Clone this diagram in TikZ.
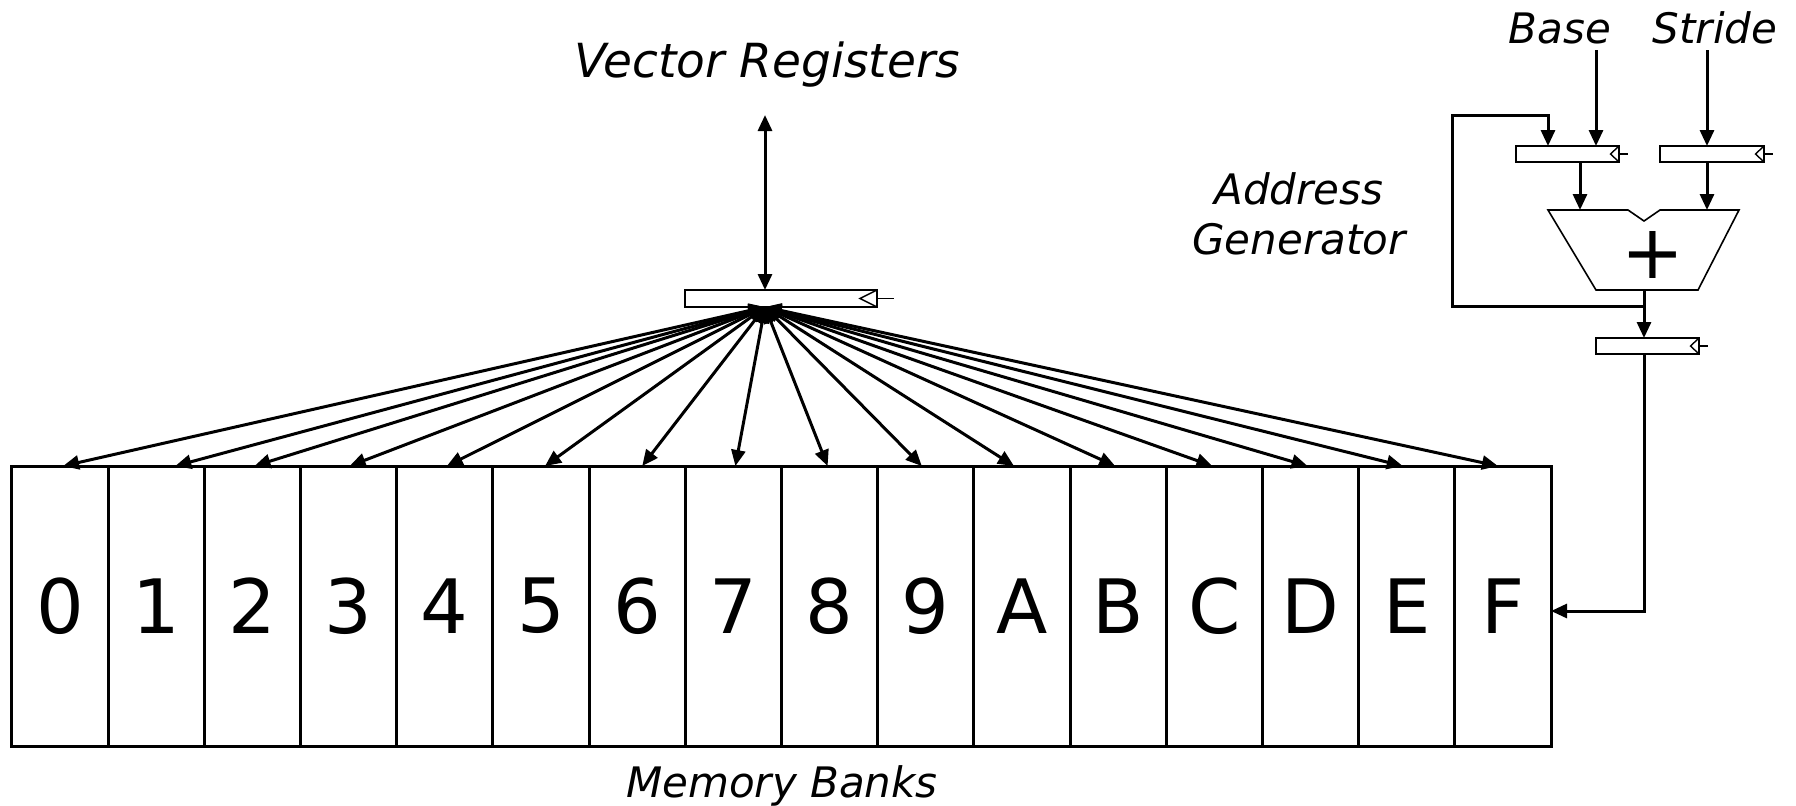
\documentclass[tikz,border=0pt]{standalone}
\usepackage{fontspec}
\setmainfont{DejaVu Sans}
\usetikzlibrary{arrows.meta}
\begin{document}
\begin{tikzpicture}[x=0.5pt,y=-0.5pt,
  arr/.style={line width=1.5pt,-{Triangle[length=8pt,width=7pt]}},
  darr/.style={line width=1.5pt,{Triangle[length=8pt,width=7pt]}-{Triangle[length=8pt,width=7pt]}},
  bank/.style={draw,line width=1.5pt,minimum width=48.1pt,minimum height=140pt,inner sep=0pt,outer sep=0pt,font=\fontsize{37.5}{40}\selectfont},
  reg/.style={draw,line width=0.7pt,inner sep=0pt,outer sep=0pt,fill=white},
  clk/.style={line width=0.7pt},
  lbl/.style={font=\itshape\fontsize{21}{25}\selectfont,inner sep=0pt},
]
\path[use as bounding box] (0,0) rectangle (1796,805);

% memory banks
\foreach \lab [count=\i from 0] in {0,1,2,3,4,5,6,7,8,9,A,B,C,D,E,F}
  \node[bank] (b\i) at ({12+96.19*(\i+0.5)},606) {\lab};
\node[lbl,anchor=base] (mb) at (782,797) {Memory Banks};

% vector register
\node[reg,minimum width=96pt,minimum height=8.5pt] (vreg) at (781,298.5) {};
\draw[clk] (vreg.north east) -- ++(-17,8.5) -- (vreg.south east);
\draw[clk] (vreg.east) -- ++(17,0);
\node[lbl,anchor=base,font=\itshape\fontsize{23.5}{28}\selectfont] (vr) at (767,77) {Vector Registers};
\coordinate (vtop) at (765,115);
\draw[darr] (vtop) -- ([xshift=-8pt]vreg.north);
\coordinate (fan) at ([xshift=-8pt]vreg.south);

\foreach \i/\o in {0/3,1/19,2/2,3/1,4/2,5/4,6/5,7/2,8/-2,9/-4,10/-8,11/-3,12/-2,13/-3,14/-4,15/-5}
  \draw[darr] (fan) -- ([xshift=\o*0.5pt]b\i.north);

% address generator
\node[lbl,align=center] (ag) at (1299,214) {Address\\[0pt]Generator};
\node[lbl,anchor=base] (base) at (1560,43) {Base};
\node[lbl,anchor=base] (stride) at (1715,43) {Stride};

\node[reg,minimum width=51.5pt,minimum height=8pt] (breg) at (1567.5,154) {};
\draw[clk] (breg.north east) -- ++(-8.5,8) -- (breg.south east);
\draw[clk] (breg.east) -- ++(9,0);
\node[reg,minimum width=52pt,minimum height=8pt] (sreg) at (1712,154) {};
\draw[clk] (sreg.north east) -- ++(-8.5,8) -- (sreg.south east);
\draw[clk] (sreg.east) -- ++(9,0);
\node[reg,minimum width=51.5pt,minimum height=8pt] (oreg) at (1647.5,346) {};
\draw[clk] (oreg.north east) -- ++(-8.5,8) -- (oreg.south east);
\draw[clk] (oreg.east) -- ++(9,0);

% adder
\draw[line width=0.8pt] (1548,210) -- (1628,210) -- (1644,221) -- (1660,210) -- (1739,210)
  -- (1698,290) -- (1596,290) -- cycle;
\node[inner sep=0pt,font=\fontsize{37.5}{40}\selectfont] (plus) at (1653,255) {+};
\coordinate (addA) at (1580,210);
\coordinate (addB) at (1707,210);
\coordinate (addO) at (1644,290);
\coordinate (tap) at (1644,306);
\coordinate (fbc) at (1452,115);
\coordinate (basein) at (1596,50);
\coordinate (stridein) at (1707,50);

\draw[arr] (basein) -- ([xshift=40pt]breg.north west);
\draw[arr] (stridein) -- ([xshift=23.5pt]sreg.north west);
\draw[arr] ([xshift=32pt]breg.south west) -- (addA);
\draw[arr] ([xshift=23.5pt]sreg.south west) -- (addB);
\draw[arr] (addO) -- ([xshift=24pt]oreg.north west);
\draw[arr] (tap) -| (fbc) -| ([xshift=16pt]breg.north west);
\draw[arr] ([xshift=24pt]oreg.south west) |- ([yshift=-2.5pt]b15.east);
\end{tikzpicture}
\end{document}
